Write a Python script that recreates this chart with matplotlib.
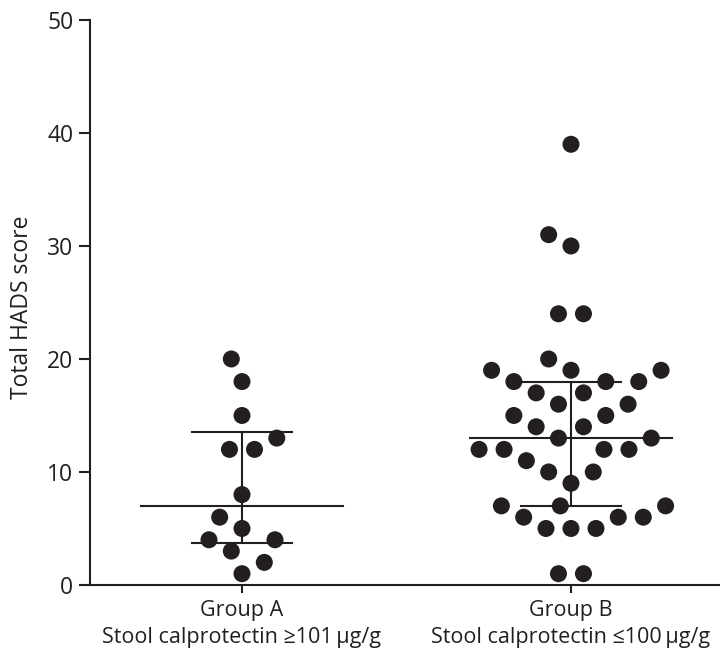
import numpy as np
import matplotlib
matplotlib.use("Agg")
import matplotlib.pyplot as plt

plt.rcParams['font.family'] = ['Open Sans', 'DejaVu Sans']

# total HADS scores per group
group_labels = ["Group A\nStool calprotectin \u2265101\u2009\u00b5g/g",
                "Group B\nStool calprotectin \u2264100\u2009\u00b5g/g"]
scores_a = [20, 18, 15, 13, 12, 12, 8, 6, 5, 4, 4, 3, 2, 1]
scores_b = [39, 31, 30, 24, 24, 20, 19, 19, 19, 18, 18, 18, 17, 17, 16, 16,
            15, 15, 14, 14, 13, 13, 12, 12, 12, 12, 11, 10, 10, 9,
            7, 7, 7, 6, 6, 6, 5, 5, 5, 1, 1]
y_ticks = [0, 10, 20, 30, 40, 50]

ink = "#231f20"
fig_w, fig_h, dpi = 7.2, 6.55, 100
ax_rect = [0.125, 0.1069, 0.875, 0.8626]
xlim = (-0.462, 1.453)
ylim = (0, 50)

# pixels per data unit, used to lay the dots out as a swarm
px_x = fig_w * dpi * ax_rect[2] / (xlim[1] - xlim[0])
px_y = fig_h * dpi * ax_rect[3] / (ylim[1] - ylim[0])


def swarm_offsets(values, dist=25.0):
    """Dots of equal value start as a centred row, then each one is pushed
    outwards (on its own side) until it clears the dots already drawn."""
    values = np.asarray(values, dtype=float)
    xs = np.zeros(len(values))
    placed = []

    def free(x, y):
        return all(np.hypot(x - px, y - py) >= dist - 1e-6 for px, py in placed)

    for v in np.unique(values):
        idx = np.flatnonzero(values == v)
        y = v * px_y
        k = len(idx)
        if k % 2:
            slots = [0.0] + [s * j for j in range(1, k // 2 + 1) for s in (1, -1)]
        else:
            slots = [s * (j + 0.5) for j in range(k // 2) for s in (1, -1)]
        slots = [s * dist for s in slots[:k]]
        for i, x0 in zip(idx, slots):
            cands = [x0]
            for px, py in placed:
                dy = abs(py - y)
                if dy < dist:
                    dx = np.sqrt(dist ** 2 - dy ** 2)
                    cands += [px - dx, px + dx]
            if x0 > 0:
                cands = [c for c in cands if c >= x0 - 1e-9]
            elif x0 < 0:
                cands = [c for c in cands if c <= x0 + 1e-9]
            lean = sum(px for px, _ in placed)
            cands.sort(key=lambda c: (round(abs(c - x0), 6), c * np.sign(lean or -1)))
            x = next(c for c in cands if free(c, y))
            xs[i] = x
            placed.append((x, y))
    return xs / px_x


fig = plt.figure(figsize=(fig_w, fig_h), dpi=dpi)
ax = fig.add_axes(ax_rect)

for pos, vals in enumerate([scores_a, scores_b]):
    vals = np.asarray(vals, dtype=float)
    ax.scatter(pos + swarm_offsets(vals), vals, s=150, color=ink,
               edgecolors="none", zorder=3, clip_on=False)
    q1, med, q3 = np.percentile(vals, [25, 50, 75], method="weibull")
    ax.plot([pos - 0.307, pos + 0.307], [med, med], color=ink, lw=1.5, zorder=2)
    ax.plot([pos - 0.152, pos + 0.152], [q1, q1], color=ink, lw=1.5, zorder=2)
    ax.plot([pos - 0.152, pos + 0.152], [q3, q3], color=ink, lw=1.5, zorder=2)
    ax.plot([pos, pos], [q1, q3], color=ink, lw=1.5, zorder=2)

ax.set_xlim(*xlim)
ax.set_ylim(*ylim)
ax.set_xticks([0, 1])
ax.set_xticklabels(group_labels, fontsize=15.5, linespacing=1.35, color=ink)
ax.set_yticks(y_ticks)
ax.tick_params(axis="y", labelsize=16.5, colors=ink, length=8, width=1.5, pad=4)
ax.tick_params(axis="x", colors=ink, length=6, width=1.5, pad=5)
for side in ["top", "right"]:
    ax.spines[side].set_visible(False)
for side in ["left", "bottom"]:
    ax.spines[side].set_linewidth(1.5)
    ax.spines[side].set_color(ink)

ax.set_ylabel("Total HADS score", fontsize=16.5, color=ink, va="center")
ax.yaxis.set_label_coords(-0.108, 0.492)

fig.savefig("out.png", dpi=dpi)
